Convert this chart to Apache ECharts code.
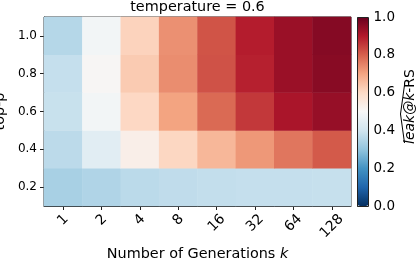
<!DOCTYPE html>
<html>
<head>
<meta charset="utf-8">
<script src="https://cdn.jsdelivr.net/npm/echarts@6/dist/echarts.min.js"></script>
<style>
html,body{margin:0;padding:0;background:#fff;}
#chart{width:419px;height:258px;}
</style>
</head>
<body>
<div id="chart"></div>
<script>
// Categories
const generations = ['1', '2', '4', '8', '16', '32', '64', '128'];
const topP = ['0.2', '0.4', '0.6', '0.8', '1.0'];
// leak@k-RS values per top-p row (estimated from colours)
const row_p02 = [0.335, 0.348, 0.365, 0.373, 0.378, 0.381, 0.381, 0.383];
const row_p04 = [0.367, 0.442, 0.532, 0.607, 0.667, 0.719, 0.768, 0.808];
const row_p06 = [0.386, 0.487, 0.605, 0.702, 0.786, 0.856, 0.911, 0.937];
const row_p08 = [0.381, 0.507, 0.630, 0.735, 0.819, 0.889, 0.932, 0.956];
const row_p10 = [0.356, 0.487, 0.615, 0.730, 0.817, 0.894, 0.932, 0.960];
const rows = [row_p02, row_p04, row_p06, row_p08, row_p10];
// Colorbar range / ticks
const cbMin = 0, cbMax = 1, cbStep = 0.2;
// RdBu_r colormap stops
const rdbu_r = ['#053061', '#2166ac', '#4393c3', '#92c5de', '#d1e5f0', '#f7f7f7',
                '#fddbc7', '#f4a582', '#d6604d', '#b2182b', '#67001f'];

const data = [];
rows.forEach((r, yi) => r.forEach((v, xi) => data.push([xi, yi, v])));

const FONT = 'DejaVu Sans';
const TXT = '#000';
const LINE = '#222';
const XF = 14;

const chart = echarts.init(document.getElementById('chart'), null, {renderer: 'canvas'});
chart.setOption({
  animation: false,
  backgroundColor: '#fff',
  textStyle: {fontFamily: FONT, color: TXT},
  title: {
    text: 'temperature = 0.6',
    left: 197.5, top: 0, textAlign: 'center', padding: 0,
    textStyle: {fontFamily: FONT, fontSize: 14.4, fontWeight: 'normal', color: TXT}
  },
  grid: [
    {left: 44, top: 17, width: 307, height: 189, show: true, borderColor: LINE, borderWidth: 1,
     backgroundColor: 'transparent', containLabel: false, outerBoundsMode: 'none'},
    {left: 357.5, top: 17, width: 11, height: 189, show: false, containLabel: false, outerBoundsMode: 'none'}
  ],
  xAxis: [
    {
      type: 'category', data: generations, gridIndex: 0,
      axisLine: {show: true, lineStyle: {color: LINE, width: 1}},
      axisTick: {show: true, alignWithLabel: true, length: 4, lineStyle: {color: LINE}},
      splitLine: {show: false},
      axisLabel: {
        rotate: 45, margin: 14, align: 'center', verticalAlign: 'middle',
        fontFamily: FONT, fontSize: XF, color: TXT,
        formatter: v => '{d' + v.length + '|' + v + '}',
        rich: {
          d1: {fontFamily: FONT, fontSize: XF, color: TXT},
          d2: {fontFamily: FONT, fontSize: XF, color: TXT, padding: [4.4, 4.4, 0, 0]},
          d3: {fontFamily: FONT, fontSize: XF, color: TXT, padding: [8.9, 8.9, 0, 0]}
        }
      },
      name: 'Number of Generations {i|k}',
      nameLocation: 'middle', nameGap: 35,
      nameTextStyle: {fontFamily: FONT, fontSize: 14.4, color: TXT,
        rich: {i: {fontFamily: FONT, fontSize: 14.4, fontStyle: 'italic', color: TXT}}}
    },
    {type: 'value', gridIndex: 1, show: false, min: 0, max: 1}
  ],
  yAxis: [
    {
      type: 'category', data: topP, gridIndex: 0,
      axisLine: {show: true, lineStyle: {color: LINE, width: 1}},
      axisTick: {show: true, alignWithLabel: true, length: 4, lineStyle: {color: LINE}},
      splitLine: {show: false},
      axisLabel: {margin: 7, fontFamily: FONT, fontSize: 12, color: TXT},
      name: 'top-p', nameLocation: 'middle', nameGap: 31,
      nameTextStyle: {fontFamily: FONT, fontSize: 14.4, color: TXT}
    },
    {
      type: 'value', gridIndex: 1, position: 'right', min: cbMin, max: cbMax, interval: cbStep,
      axisLine: {show: false},
      axisTick: {show: true, length: 4, lineStyle: {color: LINE}},
      splitLine: {show: false},
      axisLabel: {margin: 5, fontFamily: FONT, fontSize: 13.5, color: TXT, formatter: v => v.toFixed(1)}
    }
  ],
  visualMap: {
    type: 'continuous', min: cbMin, max: cbMax, seriesIndex: 0,
    calculable: false, hoverLink: false, realtime: false,
    orient: 'vertical', left: 357.5, top: 17, padding: 0,
    itemWidth: 11, itemHeight: 189,
    inRange: {color: rdbu_r},
    text: null, showLabel: false
  },
  series: [{
    type: 'heatmap', xAxisIndex: 0, yAxisIndex: 0, data: data,
    itemStyle: {borderWidth: 0},
    emphasis: {disabled: true},
    progressive: 0
  }],
  graphic: [
    {type: 'rect', z: 100, silent: true,
     shape: {x: 357.5, y: 17.5, width: 11, height: 189},
     style: {fill: 'none', stroke: LINE, lineWidth: 1}},
    {type: 'group', x: 410, y: 106.5, rotation: Math.PI / 2, z: 100, children: [
      {type: 'text', x: 0, y: 0, style: {
        text: '{i|leak@k}-RS', align: 'center', verticalAlign: 'middle',
        font: '14px "DejaVu Sans"', fill: TXT,
        rich: {i: {fontFamily: FONT, fontSize: 14, fontStyle: 'italic', fill: TXT, color: TXT}}
      }},
      {type: 'polyline', shape: {points: [[-36.5, -5.5], [-7.5, -9.5], [21.5, -5.5]]},
       style: {stroke: TXT, lineWidth: 1, fill: 'none'}}
    ]}
  ]
});
</script>
</body>
</html>
